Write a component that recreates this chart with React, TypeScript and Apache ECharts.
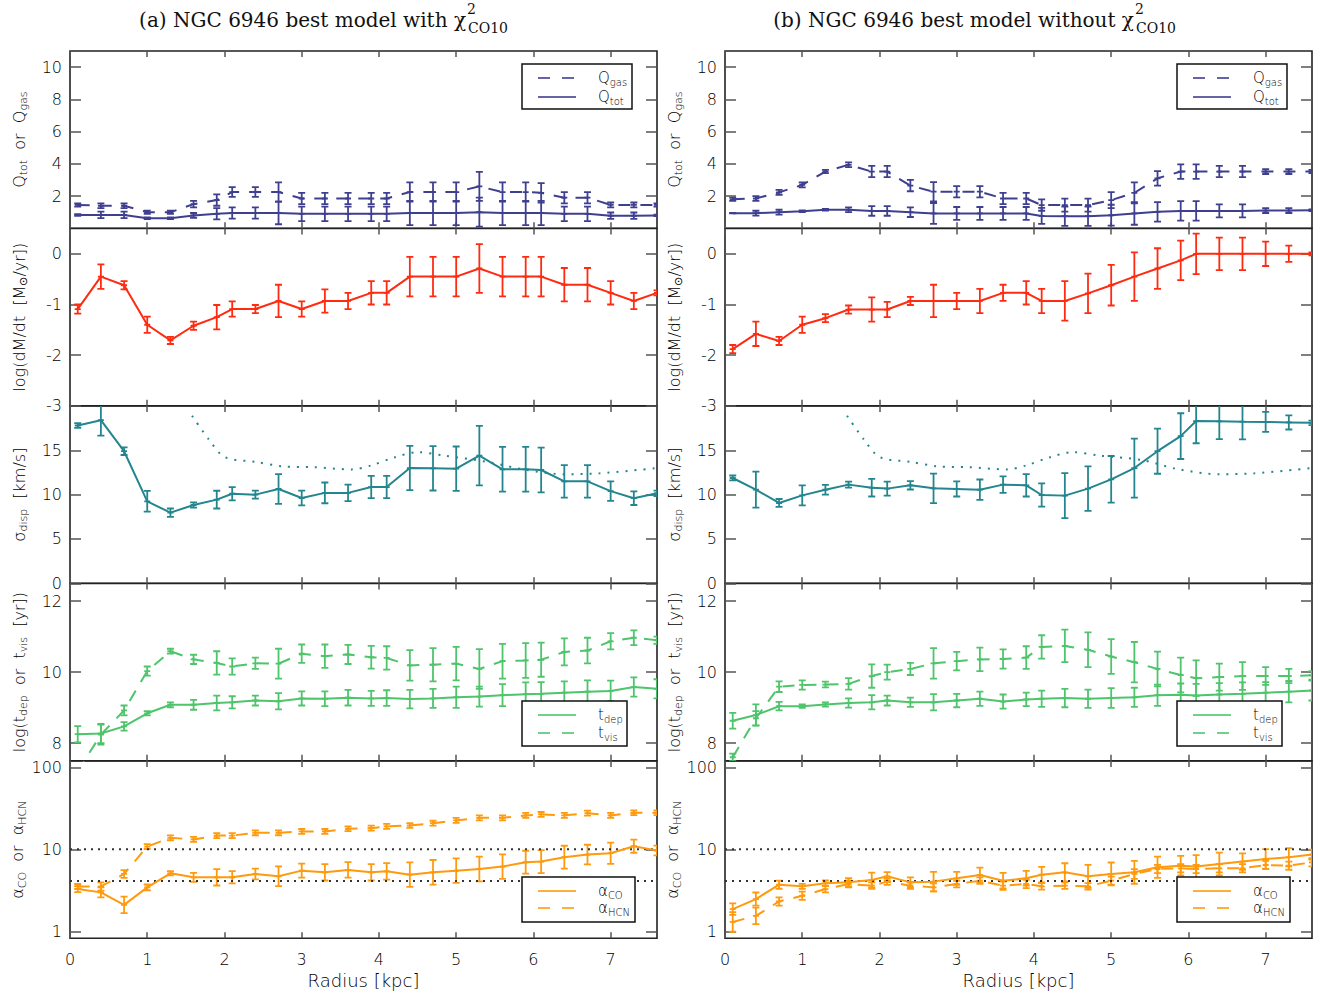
import React, { useEffect, useRef } from 'react';
import * as echarts from 'echarts';

// ---------- data ----------
const radius = [0.1, 0.4, 0.7, 1.0, 1.3, 1.6, 1.9, 2.1, 2.4, 2.7, 3.0, 3.3, 3.6, 3.9, 4.1, 4.4, 4.7, 5.0, 5.3, 5.6, 5.9, 6.1, 6.4, 6.7, 7.0, 7.3, 7.6];
const radiusTicks = [0, 1, 2, 3, 4, 5, 6, 7];

// (a) with chi2_CO10
const qgasA = [1.45, 1.4, 1.4, 1.0, 1.0, 1.5, 1.75, 2.25, 2.25, 2.25, 1.85, 1.85, 1.85, 1.85, 1.85, 2.25, 2.25, 2.25, 2.6, 2.25, 2.25, 2.2, 1.9, 1.9, 1.45, 1.45, 1.45];
const qgasErrA = [0.1, 0.15, 0.15, 0.1, 0.1, 0.2, 0.35, 0.3, 0.3, 0.6, 0.35, 0.35, 0.35, 0.35, 0.35, 0.6, 0.6, 0.6, 0.9, 0.6, 0.6, 0.6, 0.35, 0.35, 0.15, 0.15, 0.1];
const qtotA = [0.83, 0.83, 0.83, 0.62, 0.62, 0.8, 0.9, 0.95, 0.95, 0.95, 0.9, 0.9, 0.9, 0.9, 0.9, 0.95, 0.95, 0.95, 1.0, 0.95, 0.95, 0.95, 0.9, 0.9, 0.78, 0.78, 0.8];
const qtotErrA = [0.05, 0.2, 0.2, 0.05, 0.05, 0.15, 0.35, 0.35, 0.35, 0.7, 0.45, 0.45, 0.45, 0.45, 0.45, 0.75, 0.75, 0.75, 0.9, 0.75, 0.75, 0.75, 0.45, 0.45, 0.2, 0.2, 0.05];
const mdotA = [-1.09, -0.45, -0.62, -1.4, -1.71, -1.42, -1.25, -1.09, -1.09, -0.93, -1.09, -0.93, -0.93, -0.77, -0.77, -0.45, -0.45, -0.45, -0.29, -0.45, -0.45, -0.45, -0.61, -0.61, -0.77, -0.93, -0.77];
const mdotErrA = [0.09, 0.24, 0.08, 0.16, 0.07, 0.08, 0.24, 0.15, 0.08, 0.32, 0.15, 0.23, 0.16, 0.23, 0.23, 0.39, 0.39, 0.39, 0.48, 0.39, 0.39, 0.39, 0.33, 0.33, 0.23, 0.16, 0.05];
const sigA = [17.8, 18.4, 14.9, 9.25, 7.97, 8.83, 9.44, 10.1, 10.0, 10.64, 9.62, 10.2, 10.2, 10.86, 10.86, 13.0, 12.97, 12.93, 14.4, 12.86, 12.86, 12.78, 11.5, 11.5, 10.4, 9.6, 10.15];
const sigErrA = [0.26, 1.75, 0.43, 1.17, 0.47, 0.3, 1.0, 0.75, 0.45, 1.67, 0.83, 1.17, 0.94, 1.26, 1.26, 2.5, 2.5, 2.5, 3.35, 2.53, 2.53, 2.53, 1.84, 1.84, 1.1, 0.77, 0.3];
const sigCritRA = [1.58, 1.8, 2.0, 2.4, 2.75, 3.15, 3.65, 3.9, 4.2, 4.5, 4.85, 5.4, 5.9, 6.4, 6.85, 7.6];
const sigCritA = [18.9, 16.2, 14.25, 13.7, 13.2, 13.1, 12.85, 13.3, 14.2, 14.8, 14.4, 13.7, 12.8, 12.3, 12.4, 13.0];
const tdepA = [8.25, 8.27, 8.47, 8.84, 9.08, 9.08, 9.13, 9.15, 9.2, 9.18, 9.26, 9.25, 9.28, 9.26, 9.27, 9.24, 9.26, 9.29, 9.31, 9.35, 9.38, 9.39, 9.42, 9.45, 9.47, 9.58, 9.53];
const tdepErrA = [0.23, 0.27, 0.12, 0.06, 0.07, 0.14, 0.21, 0.17, 0.14, 0.23, 0.2, 0.21, 0.22, 0.21, 0.22, 0.26, 0.27, 0.3, 0.28, 0.31, 0.33, 0.33, 0.32, 0.32, 0.29, 0.27, 0.27];
const tvisA = [7.2, 8.24, 8.92, 10.03, 10.59, 10.36, 10.26, 10.16, 10.25, 10.24, 10.52, 10.45, 10.5, 10.42, 10.4, 10.19, 10.21, 10.24, 10.09, 10.31, 10.33, 10.35, 10.57, 10.61, 10.87, 10.97, 10.9];
const tvisErrA = [0.1, 0.28, 0.14, 0.13, 0.07, 0.13, 0.33, 0.23, 0.16, 0.42, 0.26, 0.33, 0.27, 0.32, 0.33, 0.43, 0.47, 0.47, 0.56, 0.49, 0.49, 0.48, 0.38, 0.36, 0.23, 0.21, 0.1];
const acoA = [3.27, 2.98, 2.1, 3.43, 5.09, 4.55, 4.55, 4.55, 5.0, 4.68, 5.49, 5.24, 5.6, 5.24, 5.38, 4.9, 5.24, 5.49, 5.75, 6.15, 6.95, 7.08, 8.0, 8.62, 8.96, 10.9, 9.66];
const acoErrA = [0.037, 0.06, 0.1, 0.035, 0.025, 0.055, 0.1, 0.075, 0.065, 0.12, 0.085, 0.1, 0.095, 0.1, 0.1, 0.15, 0.15, 0.15, 0.15, 0.15, 0.14, 0.14, 0.14, 0.12, 0.13, 0.08, 0.06];
const ahcnA = [3.52, 3.52, 5.0, 10.8, 13.8, 13.2, 14.7, 14.7, 15.9, 15.9, 16.5, 16.5, 17.8, 18.1, 19.0, 19.5, 20.8, 22.5, 24.2, 24.2, 25.9, 26.6, 25.9, 27.6, 25.9, 27.9, 27.9];
const ahcnErrA = [0.03, 0.05, 0.047, 0.03, 0.03, 0.03, 0.03, 0.03, 0.03, 0.03, 0.03, 0.03, 0.03, 0.03, 0.03, 0.03, 0.03, 0.03, 0.03, 0.03, 0.03, 0.03, 0.03, 0.03, 0.03, 0.03, 0.03];

// (b) without chi2_CO10
const qgasB = [1.8, 1.85, 2.23, 2.69, 3.52, 3.94, 3.52, 3.52, 2.65, 2.27, 2.27, 2.27, 1.85, 1.85, 1.44, 1.44, 1.44, 1.75, 2.2, 3.1, 3.52, 3.52, 3.52, 3.52, 3.52, 3.52, 3.52];
const qgasErrB = [0.1, 0.15, 0.15, 0.15, 0.1, 0.15, 0.35, 0.35, 0.35, 0.6, 0.35, 0.35, 0.35, 0.35, 0.35, 0.4, 0.4, 0.5, 0.65, 0.45, 0.45, 0.45, 0.35, 0.35, 0.15, 0.15, 0.1];
const qtotB = [0.94, 0.94, 1.0, 1.06, 1.15, 1.15, 1.08, 1.08, 1.0, 0.92, 0.92, 0.92, 0.92, 0.92, 0.77, 0.75, 0.75, 0.81, 0.92, 1.02, 1.08, 1.08, 1.08, 1.08, 1.1, 1.1, 1.12];
const qtotErrB = [0.02, 0.15, 0.15, 0.05, 0.05, 0.15, 0.3, 0.3, 0.3, 0.65, 0.4, 0.4, 0.4, 0.4, 0.5, 0.6, 0.6, 0.65, 0.7, 0.6, 0.6, 0.6, 0.4, 0.4, 0.15, 0.15, 0.05];
const mdotB = [-1.88, -1.58, -1.72, -1.4, -1.27, -1.1, -1.1, -1.1, -0.93, -0.93, -0.93, -0.93, -0.77, -0.77, -0.93, -0.93, -0.78, -0.62, -0.45, -0.29, -0.13, 0.0, 0.0, 0.0, 0.0, 0.0, 0.0];
const mdotErrB = [0.08, 0.24, 0.08, 0.16, 0.08, 0.08, 0.24, 0.15, 0.08, 0.32, 0.16, 0.24, 0.16, 0.23, 0.24, 0.39, 0.39, 0.4, 0.48, 0.4, 0.39, 0.4, 0.32, 0.32, 0.24, 0.16, 0.03];
const sigB = [11.88, 10.56, 9.06, 9.92, 10.56, 11.13, 10.79, 10.68, 11.05, 10.71, 10.64, 10.56, 11.13, 11.05, 9.96, 9.89, 10.68, 11.73, 13.0, 14.9, 16.6, 18.3, 18.27, 18.23, 18.2, 18.15, 18.1];
const sigErrB = [0.28, 2.03, 0.45, 1.13, 0.55, 0.34, 1.0, 0.8, 0.47, 1.67, 0.85, 1.15, 0.94, 1.26, 1.32, 2.54, 2.5, 2.63, 3.33, 2.54, 2.58, 2.5, 2.0, 2.0, 1.13, 0.8, 0.25];
const sigCritRB = [1.58, 1.8, 2.0, 2.4, 2.75, 3.15, 3.65, 3.9, 4.2, 4.5, 4.85, 5.4, 5.85, 6.4, 6.85, 7.6];
const sigCritB = [18.9, 16.2, 14.25, 13.7, 13.2, 13.1, 12.85, 13.3, 14.2, 14.8, 14.4, 13.9, 12.9, 12.3, 12.4, 13.0];
const tdepB = [8.63, 8.79, 9.04, 9.04, 9.09, 9.13, 9.15, 9.2, 9.15, 9.15, 9.2, 9.25, 9.17, 9.23, 9.25, 9.27, 9.25, 9.27, 9.29, 9.35, 9.36, 9.34, 9.37, 9.39, 9.42, 9.45, 9.48];
const tdepErrB = [0.22, 0.3, 0.12, 0.05, 0.06, 0.13, 0.2, 0.14, 0.13, 0.23, 0.19, 0.2, 0.2, 0.19, 0.23, 0.26, 0.26, 0.28, 0.27, 0.3, 0.32, 0.33, 0.32, 0.32, 0.3, 0.3, 0.28];
const tvisB = [7.6, 8.7, 9.59, 9.64, 9.65, 9.67, 9.89, 10.0, 10.09, 10.25, 10.31, 10.36, 10.37, 10.41, 10.71, 10.74, 10.63, 10.44, 10.28, 10.09, 9.92, 9.83, 9.86, 9.89, 9.89, 9.89, 9.91];
const tvisErrB = [0.1, 0.2, 0.15, 0.13, 0.08, 0.16, 0.33, 0.21, 0.17, 0.43, 0.26, 0.33, 0.27, 0.32, 0.33, 0.46, 0.49, 0.49, 0.57, 0.49, 0.49, 0.5, 0.38, 0.39, 0.25, 0.2, 0.12];
const acoB = [1.86, 2.47, 3.7, 3.53, 3.84, 3.95, 4.22, 4.68, 3.95, 4.03, 4.42, 4.86, 4.14, 4.42, 4.9, 5.24, 4.68, 5.0, 5.24, 6.03, 6.31, 6.15, 6.61, 7.08, 7.62, 8.0, 8.62];
const acoErrB = [0.07, 0.08, 0.05, 0.03, 0.035, 0.05, 0.09, 0.05, 0.06, 0.12, 0.08, 0.09, 0.095, 0.09, 0.095, 0.11, 0.14, 0.14, 0.14, 0.13, 0.12, 0.14, 0.14, 0.1, 0.12, 0.11, 0.06];
const ahcnB = [1.3, 1.54, 2.31, 2.71, 3.27, 3.77, 3.6, 4.03, 3.6, 3.43, 3.77, 4.14, 3.6, 3.77, 3.53, 3.6, 3.53, 4.14, 5.0, 5.75, 5.86, 5.75, 5.86, 5.86, 6.43, 6.31, 6.93];
const ahcnErrB = [0.12, 0.1, 0.05, 0.05, 0.04, 0.04, 0.04, 0.04, 0.04, 0.05, 0.04, 0.04, 0.05, 0.05, 0.04, 0.04, 0.04, 0.05, 0.06, 0.05, 0.05, 0.05, 0.05, 0.05, 0.05, 0.05, 0.05];

const alphaRefLevels = [10, 4.1];

const titles = ['(a) NGC 6946 best model with \u03c7', '(b) NGC 6946 best model without \u03c7'];

// ---------- styling ----------
const NAVY = '#3f3f90';
const RED = '#ff2b10';
const TEAL = '#23868f';
const GREEN = '#4ec46b';
const ORANGE = '#ff9a0d';
const SANS = "'DejaVu Sans', 'Liberation Sans', sans-serif";
const SERIF = "'DejaVu Serif', 'Liberation Serif', serif";
const TXT = '#000';
const FW = 200;

const COL_LEFT = [70, 725];
const COL_W = 587;
const PANEL_TOP = [51, 228.5, 406, 583.5, 761];
const PANEL_H = 177.3;
const DASH = [12, 10];

const panelCfg = [
  { min: 0, max: 11, ticks: [2, 4, 6, 8, 10], name: '{n|Q}{s|tot}{n|  or  Q}{s|gas}' },
  { min: -3, max: 0.5, ticks: [0, -1, -2, -3], name: '{n|log(dM/dt  [M}{s|\u2299}{n|/yr])}' },
  { min: 0, max: 20, ticks: [0, 5, 10, 15], name: '{n|\u03c3}{s|disp}{n|  [km/s]}' },
  { min: 7.5, max: 12.5, ticks: [8, 10, 12], name: '{n|log(t}{s|dep}{n|  or  t}{s|vis}{n|  [yr])}' },
  { min: -0.086, max: 2.077, ticks: [0, 1, 2], log: true, name: '{n|\u03b1}{s|CO}{n|  or  \u03b1}{s|HCN}' },
];

const cols = [
  { qgas: qgasA, qgasErr: qgasErrA, qtot: qtotA, qtotErr: qtotErrA, mdot: mdotA, mdotErr: mdotErrA, sig: sigA, sigErr: sigErrA, critR: sigCritRA, crit: sigCritA, tdep: tdepA, tdepErr: tdepErrA, tvis: tvisA, tvisErr: tvisErrA, aco: acoA, acoErr: acoErrA, ahcn: ahcnA, ahcnErr: ahcnErrA },
  { qgas: qgasB, qgasErr: qgasErrB, qtot: qtotB, qtotErr: qtotErrB, mdot: mdotB, mdotErr: mdotErrB, sig: sigB, sigErr: sigErrB, critR: sigCritRB, crit: sigCritB, tdep: tdepB, tdepErr: tdepErrB, tvis: tvisB, tvisErr: tvisErrB, aco: acoB, acoErr: acoErrB, ahcn: ahcnB, ahcnErr: ahcnErrB },
];

function errRender(color: string) {
  return (params: any, api: any) => {
    const x = api.value(0);
    const v = api.value(1);
    const lo = api.value(2);
    const hi = api.value(3);
    const a = api.coord([x, lo]);
    const b = api.coord([x, hi]);
    const c = api.coord([x, v]);
    const w = 3.5;
    const st = { stroke: color, lineWidth: 1.8 };
    return {
      type: 'group',
      children: [
        { type: 'line', shape: { x1: a[0], y1: a[1], x2: b[0], y2: b[1] }, style: st },
        { type: 'line', shape: { x1: a[0] - w, y1: a[1], x2: a[0] + w, y2: a[1] }, style: st },
        { type: 'line', shape: { x1: b[0] - w, y1: b[1], x2: b[0] + w, y2: b[1] }, style: st },
        { type: 'line', shape: { x1: c[0] - 3, y1: c[1], x2: c[0] + 3, y2: c[1] }, style: st },
      ],
    };
  };
}

function buildOption() {
  const grid: any[] = [];
  const xAxis: any[] = [];
  const yAxis: any[] = [];
  const series: any[] = [];
  const graphic: any[] = [];

  const richName = {
    n: { fontSize: 16, fontFamily: SANS, fontWeight: FW, color: TXT, lineHeight: 20 },
    s: { fontSize: 11, fontFamily: SANS, fontWeight: FW, color: TXT, lineHeight: 11, verticalAlign: 'bottom' },
  };
  const tickStyle = { color: '#555', width: 1.5 };

  for (let c = 0; c < 2; c++) {
    for (let p = 0; p < 5; p++) {
      const g = c * 5 + p;
      const cfg = panelCfg[p];
      grid.push({
        left: COL_LEFT[c], top: PANEL_TOP[p], width: COL_W, height: PANEL_H,
        show: true, borderColor: '#222', borderWidth: 1.6, backgroundColor: 'transparent',
      });
      const isBottom = p === 4;
      xAxis.push({
        type: 'value', gridIndex: g, min: 0, max: 7.6, position: 'bottom',
        axisLine: { show: false, onZero: false },
        axisTick: { show: true, inside: true, length: 6, customValues: radiusTicks, lineStyle: tickStyle },
        axisLabel: { show: isBottom, customValues: radiusTicks, margin: 13, fontSize: 16, fontFamily: SANS, fontWeight: FW, color: TXT },
        splitLine: { show: false },
        name: isBottom ? 'Radius [kpc]' : '',
        nameLocation: 'middle', nameGap: 33,
        nameTextStyle: { fontSize: 18, fontFamily: SANS, fontWeight: FW, color: TXT },
      });
      xAxis.push({
        type: 'value', gridIndex: g, min: 0, max: 7.6, position: 'top',
        axisLine: { show: false, onZero: false },
        axisTick: { show: true, inside: true, length: 6, customValues: radiusTicks, lineStyle: tickStyle },
        axisLabel: { show: false },
        splitLine: { show: false },
      });
      yAxis.push({
        type: 'value', gridIndex: g, min: cfg.min, max: cfg.max, position: 'left',
        axisLine: { show: false, onZero: false },
        axisTick: { show: true, inside: true, length: 11, customValues: cfg.ticks, lineStyle: tickStyle },
        axisLabel: {
          show: true, customValues: cfg.ticks, margin: 8, fontSize: 16, fontFamily: SANS, fontWeight: FW, color: TXT,
          formatter: cfg.log ? (v: number) => String(Math.round(Math.pow(10, v))) : (v: number) => String(v),
        },
        splitLine: { show: false },
        name: cfg.name, nameLocation: 'middle', nameRotate: 90, nameGap: 41,
        nameTextStyle: { fontSize: 16, fontFamily: SANS, color: TXT, rich: richName },
      });
      yAxis.push({
        type: 'value', gridIndex: g, min: cfg.min, max: cfg.max, position: 'right',
        axisLine: { show: false, onZero: false },
        axisTick: { show: true, inside: true, length: 11, customValues: cfg.ticks, lineStyle: tickStyle },
        axisLabel: { show: false },
        splitLine: { show: false },
      });
    }
  }

  const addPair = (g: number, vals: number[], errs: number[], color: string, dashed: boolean, log = false) => {
    const vv = log ? vals.map((v) => Math.log10(v)) : vals;
    series.push({
      type: 'line', xAxisIndex: 2 * g, yAxisIndex: 2 * g, clip: true, silent: true,
      data: radius.map((r, i) => [r, vv[i]]),
      showSymbol: false, symbol: 'none',
      lineStyle: { color, width: 2, type: dashed ? DASH : 'solid' },
    });
    series.push({
      type: 'custom', xAxisIndex: 2 * g, yAxisIndex: 2 * g, clip: true, silent: true,
      renderItem: errRender(color),
      encode: { x: 0, y: [1, 2, 3] },
      data: radius.map((r, i) => [r, vv[i], vv[i] - errs[i], vv[i] + errs[i]]),
    });
  };

  for (let c = 0; c < 2; c++) {
    const d = cols[c];
    const g0 = c * 5;
    addPair(g0, d.qgas, d.qgasErr, NAVY, true);
    addPair(g0, d.qtot, d.qtotErr, NAVY, false);
    addPair(g0 + 1, d.mdot, d.mdotErr, RED, false);
    series.push({
      type: 'line', xAxisIndex: 2 * (g0 + 2), yAxisIndex: 2 * (g0 + 2), clip: true, silent: true,
      data: d.critR.map((r, i) => [r, d.crit[i]]), showSymbol: false, symbol: 'none', smooth: 0.3,
      lineStyle: { color: TEAL, width: 2, type: [2, 7] },
    });
    addPair(g0 + 2, d.sig, d.sigErr, TEAL, false);
    addPair(g0 + 3, d.tdep, d.tdepErr, GREEN, false);
    addPair(g0 + 3, d.tvis, d.tvisErr, GREEN, true);
    alphaRefLevels.forEach((lv) => {
      series.push({
        type: 'line', xAxisIndex: 2 * (g0 + 4), yAxisIndex: 2 * (g0 + 4), clip: true, silent: true,
        data: [[0, Math.log10(lv)], [7.6, Math.log10(lv)]], showSymbol: false, symbol: 'none',
        lineStyle: { color: '#333', width: 2, type: [2, 5] },
      });
    });
    addPair(g0 + 4, d.aco, d.acoErr, ORANGE, false, true);
    addPair(g0 + 4, d.ahcn, d.ahcnErr, ORANGE, true, true);
  }

  // titles
  const titleX = [466, 1134];
  for (let c = 0; c < 2; c++) {
    graphic.push({ type: 'text', x: titleX[c], y: 20, style: { text: titles[c], fontSize: 20, fontFamily: SERIF, fill: '#111', align: 'right', verticalAlign: 'middle' } });
    graphic.push({ type: 'text', x: titleX[c] + 1, y: 9, style: { text: '2', fontSize: 14, fontFamily: SERIF, fill: '#111', align: 'left', verticalAlign: 'middle' } });
    graphic.push({ type: 'text', x: titleX[c] + 2, y: 28, style: { text: 'CO10', fontSize: 14, fontFamily: SERIF, fill: '#111', align: 'left', verticalAlign: 'middle' } });
  }

  // legends
  const legRich = {
    n: { fontSize: 15, fontFamily: SANS, fontWeight: FW, fill: TXT, lineHeight: 18 },
    s: { fontSize: 10, fontFamily: SANS, fontWeight: FW, fill: TXT, lineHeight: 10, verticalAlign: 'bottom' },
  };
  const legends = [
    { box: [522, 64, 110, 45], items: [{ y: 78, dashed: true, color: NAVY, text: '{n|Q}{s|gas}' }, { y: 97, dashed: false, color: NAVY, text: '{n|Q}{s|tot}' }] },
    { box: [522, 701, 105, 45], items: [{ y: 715, dashed: false, color: GREEN, text: '{n|t}{s|dep}' }, { y: 733, dashed: true, color: GREEN, text: '{n|t}{s|vis}' }] },
    { box: [522, 877, 113, 45], items: [{ y: 891, dashed: false, color: ORANGE, text: '{n|\u03b1}{s|CO}' }, { y: 908, dashed: true, color: ORANGE, text: '{n|\u03b1}{s|HCN}' }] },
  ];
  for (let c = 0; c < 2; c++) {
    const dx = COL_LEFT[c] - COL_LEFT[0];
    legends.forEach((lg) => {
      graphic.push({
        type: 'rect', shape: { x: lg.box[0] + dx, y: lg.box[1], width: lg.box[2], height: lg.box[3] },
        style: { fill: '#fff', stroke: '#111', lineWidth: 1.5 }, z: 100,
      });
      lg.items.forEach((it) => {
        graphic.push({
          type: 'line', shape: { x1: 538 + dx, y1: it.y, x2: 576 + dx, y2: it.y },
          style: { stroke: it.color, lineWidth: 1.8, lineDash: it.dashed ? [12, 12] : null, opacity: 0.8 }, z: 101,
        });
        graphic.push({
          type: 'text', x: 598 + dx, y: it.y, z: 101,
          style: { text: it.text, rich: legRich, align: 'left', verticalAlign: 'middle' },
        });
      });
    });
  }

  return { animation: false, backgroundColor: '#fff', grid, xAxis, yAxis, series, graphic };
}

export default function App() {
  const ref = useRef<HTMLDivElement>(null);
  useEffect(() => {
    if (!ref.current) return;
    const chart = echarts.init(ref.current, null, { renderer: 'svg' });
    chart.setOption(buildOption() as any);
    return () => chart.dispose();
  }, []);
  return <div ref={ref} style={{ position: 'absolute', left: 0, top: 0, width: 1331, height: 994, background: '#fff' }} />;
}
